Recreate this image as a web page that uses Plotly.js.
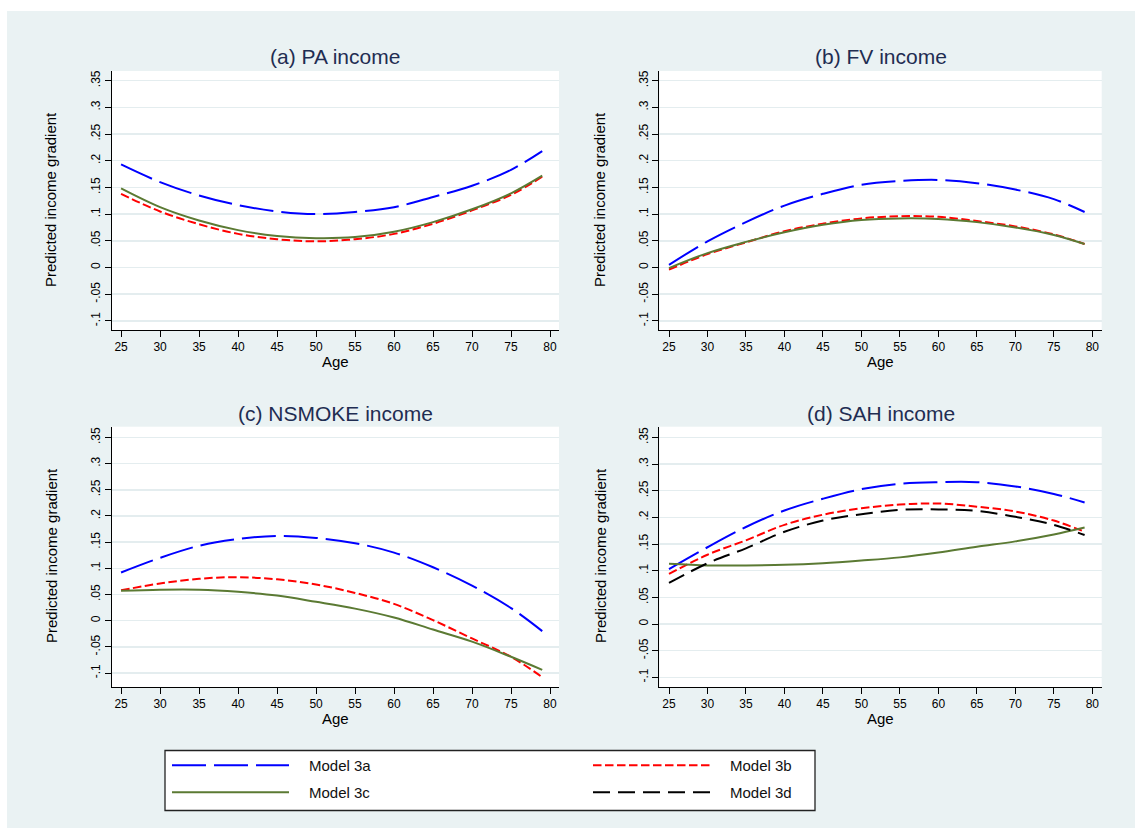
<!DOCTYPE html>
<html>
<head>
<meta charset="utf-8">
<script src="https://cdn.plot.ly/plotly-3.0.1.min.js"></script>
<style>
  html, body { margin: 0; padding: 0; background: #ffffff; width: 1135px; height: 828px; overflow: hidden; }
  #chart { position: absolute; left: 0; top: 0; width: 1135px; height: 828px; overflow: hidden; }
</style>
</head>
<body>
<div id="chart"></div>
<script>
// ---------------- DATA ----------------
const ages = [25, 30, 35, 40, 45, 50, 55, 60, 65, 70, 75, 79];

const panelTitles = ["(a) PA income", "(b) FV income", "(c) NSMOKE income", "(d) SAH income"];
const seriesNames = ["Model 3a", "Model 3b", "Model 3c", "Model 3d"];

// (a) PA income
const paModel3a = [0.193, 0.160, 0.135, 0.117, 0.105, 0.100, 0.104, 0.113, 0.132, 0.153, 0.183, 0.218];
const paModel3b = [0.138, 0.105, 0.081, 0.063, 0.053, 0.049, 0.053, 0.063, 0.082, 0.107, 0.136, 0.170];
const paModel3c = [0.148, 0.113, 0.088, 0.070, 0.059, 0.055, 0.057, 0.067, 0.085, 0.109, 0.139, 0.172];

// (b) FV income
const fvModel3a = [0.005, 0.049, 0.085, 0.116, 0.138, 0.155, 0.162, 0.164, 0.158, 0.146, 0.128, 0.104];
const fvModel3b = [-0.004, 0.025, 0.047, 0.068, 0.082, 0.092, 0.096, 0.095, 0.087, 0.077, 0.062, 0.044];
const fvModel3c = [-0.001, 0.027, 0.048, 0.066, 0.080, 0.089, 0.092, 0.091, 0.085, 0.075, 0.061, 0.044];

// (c) NSMOKE income
const nsModel3a = [0.092, 0.120, 0.143, 0.156, 0.162, 0.158, 0.148, 0.130, 0.102, 0.067, 0.024, -0.020];
const nsModel3b = [0.058, 0.071, 0.080, 0.083, 0.079, 0.069, 0.053, 0.032, 0.001, -0.034, -0.069, -0.108];
const nsModel3c = [0.057, 0.059, 0.059, 0.055, 0.048, 0.036, 0.023, 0.006, -0.017, -0.040, -0.069, -0.094];

// (d) SAH income
const sahModel3a = [0.103, 0.144, 0.182, 0.213, 0.235, 0.253, 0.263, 0.266, 0.266, 0.258, 0.244, 0.228];
const sahModel3b = [0.094, 0.130, 0.157, 0.186, 0.205, 0.217, 0.224, 0.226, 0.220, 0.211, 0.194, 0.173];
const sahModel3c = [0.113, 0.110, 0.110, 0.111, 0.114, 0.119, 0.125, 0.134, 0.145, 0.155, 0.168, 0.181];
const sahModel3d = [0.077, 0.114, 0.142, 0.173, 0.194, 0.206, 0.214, 0.215, 0.212, 0.201, 0.186, 0.167];

const xTicks = [25, 30, 35, 40, 45, 50, 55, 60, 65, 70, 75, 80];
const yTicks = [-0.1, -0.05, 0, 0.05, 0.1, 0.15, 0.2, 0.25, 0.3, 0.35];
const yTickLabels = ["-.1", "-.05", "0", ".05", ".1", ".15", ".2", ".25", ".3", ".35"];

const xLabel = "Age";
const yLabel = "Predicted income gradient";

// ---------------- STYLES ----------------
const W = 1135, H = 828;
const px = v => v / W;
const py = v => 1 - v / H;

const styles = {
  "Model 3a": { color: "#0000ff", dash: "34px,8px", width: 2, legend: "legend" },
  "Model 3b": { color: "#ff0000", dash: "8.5px,3.5px", width: 2, legend: "legend2" },
  "Model 3c": { color: "#5b7a33", dash: "solid", width: 2, legend: "legend" },
  "Model 3d": { color: "#000000", dash: "17px,8px", width: 2, legend: "legend2" }
};
const legendPad = "\u2002\u2002"; // visual gap between legend key and label

const panels = [
  { xa: "x",  ya: "y",  series: { "Model 3a": paModel3a, "Model 3b": paModel3b, "Model 3c": paModel3c } },
  { xa: "x2", ya: "y2", series: { "Model 3a": fvModel3a, "Model 3b": fvModel3b, "Model 3c": fvModel3c } },
  { xa: "x3", ya: "y3", series: { "Model 3a": nsModel3a, "Model 3b": nsModel3b, "Model 3c": nsModel3c } },
  { xa: "x4", ya: "y4", series: { "Model 3a": sahModel3a, "Model 3b": sahModel3b, "Model 3c": sahModel3c, "Model 3d": sahModel3d } }
];

const traces = [];
panels.forEach(p => {
  Object.keys(p.series).forEach(name => {
    const st = styles[name];
    traces.push({
      type: "scatter", mode: "lines",
      x: ages, y: p.series[name],
      xaxis: p.xa, yaxis: p.ya,
      name: legendPad + name, legendgroup: name, legend: st.legend,
      showlegend: p.xa === "x4",
      line: { color: st.color, dash: st.dash, width: st.width, shape: "spline", smoothing: 1 }
    });
  });
});

// ---------------- LAYOUT ----------------
const font = "Liberation Sans, Arial, Helvetica, sans-serif";

function xAxis(domain, range, anchor) {
  return {
    domain: domain, range: range, anchor: anchor,
    tickmode: "array", tickvals: xTicks,
    ticks: "outside", ticklen: 6, tickwidth: 1, tickcolor: "#000",
    showline: true, linecolor: "#000", linewidth: 1,
    showgrid: false, zeroline: false,
    tickfont: { family: font, size: 12, color: "#000" }
  };
}
function yAxis(domain, range, anchor) {
  return {
    domain: domain, range: range, anchor: anchor,
    tickmode: "array", tickvals: yTicks, ticktext: yTickLabels, tickangle: -90,
    ticks: "outside", ticklen: 6, tickwidth: 1, tickcolor: "#000",
    showline: true, linecolor: "#000", linewidth: 1,
    showgrid: true, gridcolor: "#e4edef", gridwidth: 1.5, zeroline: false,
    tickfont: { family: font, size: 12, color: "#000" }
  };
}

const colL = [px(111.7), px(559)];
const colR = [px(659.3), px(1101.7)];
const rowT = [py(330), py(71)];
const rowB = [py(687), py(426.7)];

const titleFont = { family: font, size: 21, color: "#1f2d52" };
const labFont = { family: font, size: 15, color: "#000" };

const annotations = [];
const titlePos = [
  [px(335.4), py(57)], [px(880.5), py(57)],
  [px(335), py(413)], [px(880.5), py(413)]
];
panelTitles.forEach((t, i) => {
  annotations.push({ text: t, x: titlePos[i][0], y: titlePos[i][1], xref: "paper", yref: "paper",
    xanchor: "center", yanchor: "middle", showarrow: false, font: titleFont });
});
const agePos = [[px(335.4), py(362)], [px(880.5), py(362)], [px(335), py(718)], [px(880.5), py(718)]];
agePos.forEach(p => annotations.push({ text: xLabel, x: p[0], y: p[1], xref: "paper", yref: "paper",
  xanchor: "center", yanchor: "middle", showarrow: false, font: labFont }));
const ytPos = [[px(51), py(200)], [px(600), py(200)], [px(51), py(556)], [px(600), py(556)]];
ytPos.forEach(p => annotations.push({ text: yLabel, x: p[0], y: p[1], xref: "paper", yref: "paper",
  xanchor: "center", yanchor: "middle", textangle: -90, showarrow: false, font: labFont }));

const shapes = [
  { type: "rect", xref: "paper", yref: "paper", x0: 0, x1: 1, y0: py(11), y1: 1, fillcolor: "#ffffff", line: { width: 0 } },
  { type: "rect", xref: "paper", yref: "paper", x0: 0, x1: px(7), y0: 0, y1: 1, fillcolor: "#ffffff", line: { width: 0 } },
  { type: "rect", xref: "paper", yref: "paper", x0: px(165), x1: px(815), y0: py(810.5), y1: py(750.5),
    fillcolor: "#ffffff", line: { color: "#222", width: 1.3 }, layer: "below" }
];

function legendCfg(xPix) {
  return {
    orientation: "v", x: px(xPix), y: py(749), xanchor: "left", yanchor: "top",
    bgcolor: "rgba(0,0,0,0)", borderwidth: 0,
    itemwidth: 117, traceorder: "grouped", tracegroupgap: 4.5,
    font: { family: font, size: 15, color: "#111" }
  };
}

const layout = {
  width: W, height: H,
  margin: { l: 0, r: 0, t: 0, b: 0 },
  paper_bgcolor: "#eaf2f3", plot_bgcolor: "#ffffff",
  font: { family: font, color: "#000" },
  showlegend: true,
  legend: legendCfg(167),
  legend2: legendCfg(588),
  xaxis: xAxis(colL, [23.8, 81.15], "y"),
  yaxis: yAxis(rowT, [-0.117, 0.368], "x"),
  xaxis2: xAxis(colR, [23.74, 81.22], "y2"),
  yaxis2: yAxis(rowT, [-0.117, 0.368], "x2"),
  xaxis3: xAxis(colL, [23.8, 81.15], "y3"),
  yaxis3: yAxis(rowB, [-0.1267, 0.3705], "x3"),
  xaxis4: xAxis(colR, [23.74, 81.22], "y4"),
  yaxis4: yAxis(rowB, [-0.118, 0.370], "x4"),
  annotations: annotations,
  shapes: shapes
};

Plotly.newPlot("chart", traces, layout, { displayModeBar: false, staticPlot: true });
</script>
</body>
</html>
